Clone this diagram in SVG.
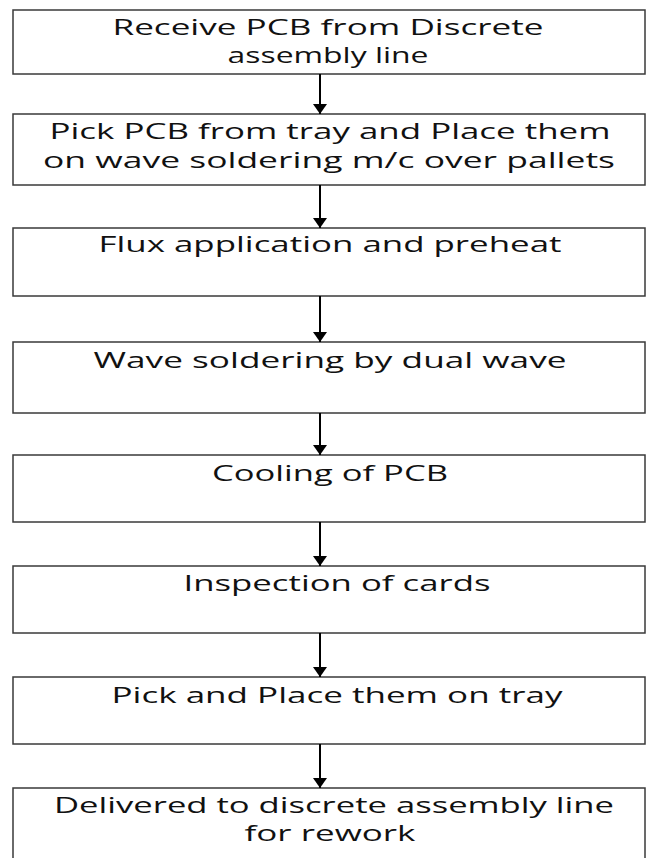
<svg xmlns="http://www.w3.org/2000/svg" width="647" height="858" viewBox="0 0 647 858">
<style>
.box{fill:#fff;stroke:#3a3a3a;stroke-width:1.5}
.t{font-family:"Open Sans","Liberation Sans",sans-serif;font-size:21px;fill:#111;text-anchor:middle}
.c{stroke:#000;stroke-width:2;fill:none}
</style>
<defs>
<marker id="ah" markerWidth="5" markerHeight="7" refX="5" refY="3.5" orient="auto" markerUnits="strokeWidth">
<path d="M0,0 L5,3.5 L0,7 Z" fill="#000"/>
</marker>
</defs>
<rect width="647" height="858" fill="#fff"/>
<g id="n1"><rect class="box" x="13" y="10" width="632" height="64"/>
<text class="t" x="328" y="35" textLength="431" lengthAdjust="spacingAndGlyphs">Receive PCB from Discrete</text>
<text class="t" x="328" y="63" textLength="201" lengthAdjust="spacingAndGlyphs">assembly line</text></g>
<g id="n2"><rect class="box" x="13" y="114" width="632" height="71"/>
<text class="t" x="330" y="139" textLength="561" lengthAdjust="spacingAndGlyphs">Pick PCB from tray and Place them</text>
<text class="t" x="329" y="168" textLength="572" lengthAdjust="spacingAndGlyphs">on wave soldering m/c over pallets</text></g>
<g id="n3"><rect class="box" x="13" y="228" width="632" height="68"/>
<text class="t" x="330" y="252" textLength="463" lengthAdjust="spacingAndGlyphs">Flux application and preheat</text></g>
<g id="n4"><rect class="box" x="13" y="342" width="632" height="71"/>
<text class="t" x="330" y="368" textLength="473" lengthAdjust="spacingAndGlyphs">Wave soldering by dual wave</text></g>
<g id="n5"><rect class="box" x="13" y="455" width="632" height="67"/>
<text class="t" x="330" y="481" textLength="236" lengthAdjust="spacingAndGlyphs">Cooling of PCB</text></g>
<g id="n6"><rect class="box" x="13" y="566" width="632" height="67"/>
<text class="t" x="337" y="591" textLength="307" lengthAdjust="spacingAndGlyphs">Inspection of cards</text></g>
<g id="n7"><rect class="box" x="13" y="677" width="632" height="67"/>
<text class="t" x="337" y="703" textLength="451" lengthAdjust="spacingAndGlyphs">Pick and Place them on tray</text></g>
<g id="n8"><rect class="box" x="13" y="788" width="632" height="90"/>
<text class="t" x="334" y="813" textLength="560" lengthAdjust="spacingAndGlyphs">Delivered to discrete assembly line</text>
<text class="t" x="330" y="841" textLength="171" lengthAdjust="spacingAndGlyphs">for rework</text></g>
<g id="connectors">
<line class="c" x1="320" y1="74" x2="320" y2="114" marker-end="url(#ah)"/>
<line class="c" x1="320" y1="185" x2="320" y2="228" marker-end="url(#ah)"/>
<line class="c" x1="320" y1="296" x2="320" y2="342" marker-end="url(#ah)"/>
<line class="c" x1="320" y1="413" x2="320" y2="455" marker-end="url(#ah)"/>
<line class="c" x1="320" y1="522" x2="320" y2="566" marker-end="url(#ah)"/>
<line class="c" x1="320" y1="633" x2="320" y2="677" marker-end="url(#ah)"/>
<line class="c" x1="320" y1="744" x2="320" y2="788" marker-end="url(#ah)"/>
</g>
</svg>
